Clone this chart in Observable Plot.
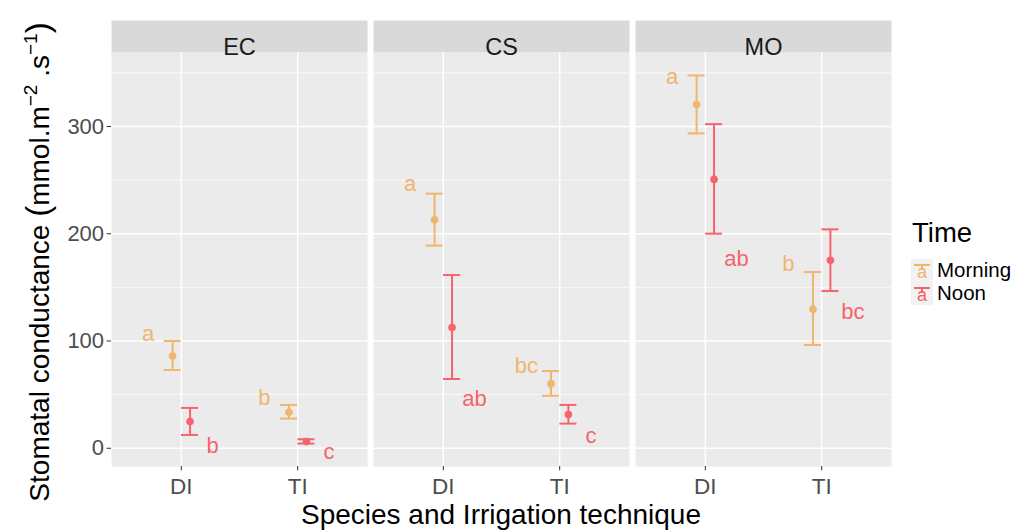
<!DOCTYPE html>
<html>
<head>
<meta charset="utf-8">
<script src="https://cdn.jsdelivr.net/npm/d3@7"></script>
<script src="https://cdn.jsdelivr.net/npm/@observablehq/plot@0.6"></script>
<style>
  html, body { margin: 0; padding: 0; background: #ffffff; }
  #wrap { position: relative; width: 1034px; height: 531px; font-family: "Liberation Sans", Arial, sans-serif; }
  #wrap svg.plotsvg { position: absolute; left: 0; top: 0; }
</style>
</head>
<body>
<div id="wrap"></div>
<script>
// ---- data ----
const species = ["EC", "CS", "MO"];
const irrigation = ["DI", "TI"];
const times = ["Morning", "Noon"];
const timeColors = ["#F0B56E", "#F5646C"];

// order: EC-DI, EC-TI, CS-DI, CS-TI, MO-DI, MO-TI
const morningMean = [86, 33.5, 213, 60, 320.5, 129.5];
const morningLow  = [73, 27.7, 189, 49, 293.6, 96.3];
const morningHigh = [100, 40.4, 237.4, 72, 347.6, 164.3];
const noonMean = [25, 6.2, 112.5, 31.4, 250.7, 175.2];
const noonLow  = [12.4, 4.4, 64.6, 23, 200.1, 146.6];
const noonHigh = [37.6, 8.4, 161.5, 40.4, 302.2, 204.1];
const morningLetters = ["a", "b", "a", "bc", "a", "b"];
const noonLetters    = ["b", "c", "ab", "c", "ab", "bc"];
const morningLetterY = [108, 48.7, 248, 78.3, 347.6, 173.6];
const noonLetterY    = [3.7, -1.9, 47.8, 13, 178.3, 128.6];

const yTicks = [0, 100, 200, 300];
const yMinor = [50, 150, 250, 350];

// ---- build table ----
const rows = [];
species.forEach((s, si) => {
  irrigation.forEach((ir, ii) => {
    const k = si * irrigation.length + ii;
    rows.push({species: s, irrigation: ir, time: "Morning", mean: morningMean[k], low: morningLow[k], high: morningHigh[k], letter: morningLetters[k], letterY: morningLetterY[k]});
    rows.push({species: s, irrigation: ir, time: "Noon", mean: noonMean[k], low: noonLow[k], high: noonHigh[k], letter: noonLetters[k], letterY: noonLetterY[k]});
  });
});

const dodge = 0.075;   // position_dodge half width (x units)
const capHalf = 0.073; // error bar cap half width (x units)
const xPos = d => irrigation.indexOf(d.irrigation) + (d.time === "Morning" ? -dodge : dodge);

const morningRows = rows.filter(d => d.time === "Morning");
const noonRows = rows.filter(d => d.time === "Noon");

const font = "Liberation Sans, Arial, sans-serif";

const chart = Plot.plot({
  width: 1034,
  height: 531,
  marginLeft: 110,
  marginRight: 141,
  marginTop: 52,
  marginBottom: 65,
  style: {fontFamily: font, background: "transparent", overflow: "visible"},
  x: {domain: [-0.6, 1.6]},
  y: {domain: [-17, 369]},
  fx: {domain: species, paddingInner: 0.0228, paddingOuter: 0, axis: null},
  color: {domain: times, range: timeColors},
  marks: [
    Plot.frame({fill: "#EBEBEB", stroke: "none"}),
    Plot.frame({fill: "#D9D9D9", stroke: "none", insetTop: -32, insetBottom: 414}),
    Plot.ruleY(yMinor, {stroke: "white", strokeWidth: 0.7}),
    Plot.ruleY(yTicks, {stroke: "white", strokeWidth: 1.4}),
    Plot.ruleX([0, 1], {stroke: "white", strokeWidth: 1.4}),
    Plot.text(species, {fx: d => d, text: d => d, frameAnchor: "top", dy: -14, fontSize: 23.5, fill: "#1A1A1A"}),
    Plot.axisY({ticks: yTicks, tickSize: 4.4, tickPadding: 3, fontSize: 22, fill: "#4D4D4D", stroke: "#333333", label: null}),
    Plot.axisX({ticks: [0, 1], tickFormat: i => irrigation[i], tickSize: 4.4, tickPadding: 7, fontSize: 22.5, fill: "#4D4D4D", stroke: "#333333", label: null}),
    Plot.ruleX(rows, {fx: "species", x: xPos, y1: "low", y2: "high", stroke: "time", strokeWidth: 2}),
    Plot.ruleY(rows, {fx: "species", y: "high", x1: d => xPos(d) - capHalf, x2: d => xPos(d) + capHalf, stroke: "time", strokeWidth: 2}),
    Plot.ruleY(rows, {fx: "species", y: "low", x1: d => xPos(d) - capHalf, x2: d => xPos(d) + capHalf, stroke: "time", strokeWidth: 2}),
    Plot.dot(rows, {fx: "species", x: xPos, y: "mean", fill: "time", r: 3.8, stroke: "none"}),
    Plot.text(morningRows, {fx: "species", x: xPos, y: "letterY", text: "letter", fill: "time", dx: -24.5, dy: 1.5, fontSize: 22}),
    Plot.text(noonRows, {fx: "species", x: xPos, y: "letterY", text: "letter", fill: "time", dx: 22.5, dy: 1.5, fontSize: 22})
  ]
});
chart.classList.add("plotsvg");
const wrap = document.getElementById("wrap");
wrap.appendChild(chart);

// ---- titles & legend (overlay SVG text) ----
const over = d3.select(wrap).append("svg")
  .attr("width", 1034).attr("height", 531)
  .style("position", "absolute").style("left", 0).style("top", 0)
  .style("font-family", font);

// y title
const yt = over.append("text")
  .attr("transform", "translate(49,262) rotate(-90)")
  .attr("text-anchor", "middle")
  .attr("font-size", 28)
  .attr("fill", "#000");
yt.append("tspan").text("Stomatal conductance ");
yt.append("tspan").attr("font-size", 33).text("(");
yt.append("tspan").text("mmol.m");
yt.append("tspan").attr("font-size", 19).attr("dy", -12).text("\u22122");
yt.append("tspan").attr("dy", 12).text(" .s");
yt.append("tspan").attr("font-size", 19).attr("dy", -12).text("\u22121");
yt.append("tspan").attr("dy", 12).attr("font-size", 33).text(")");

// x title
over.append("text")
  .attr("x", 501).attr("y", 524)
  .attr("text-anchor", "middle")
  .attr("font-size", 28)
  .attr("fill", "#000")
  .text("Species and Irrigation technique");

// legend
over.append("text").attr("x", 912).attr("y", 242).attr("font-size", 27.5).attr("fill", "#000").text("Time");
times.forEach((t, i) => {
  const y0 = 259 + i * 23;
  const g = over.append("g").attr("transform", `translate(911,${y0})`);
  g.append("rect").attr("width", 22).attr("height", 23).attr("fill", "#F2F2F2");
  g.append("line").attr("x1", 3).attr("x2", 19).attr("y1", 6).attr("y2", 6).attr("stroke", timeColors[i]).attr("stroke-width", 2);
  g.append("line").attr("x1", 11).attr("x2", 11).attr("y1", 6).attr("y2", 11).attr("stroke", timeColors[i]).attr("stroke-width", 2);
  g.append("text").attr("x", 11).attr("y", 19).attr("text-anchor", "middle").attr("font-size", 18).attr("fill", timeColors[i]).text("a");
  over.append("text").attr("x", 937).attr("y", y0 + 18).attr("font-size", 20.5).attr("fill", "#000").text(t);
});
</script>
</body>
</html>
